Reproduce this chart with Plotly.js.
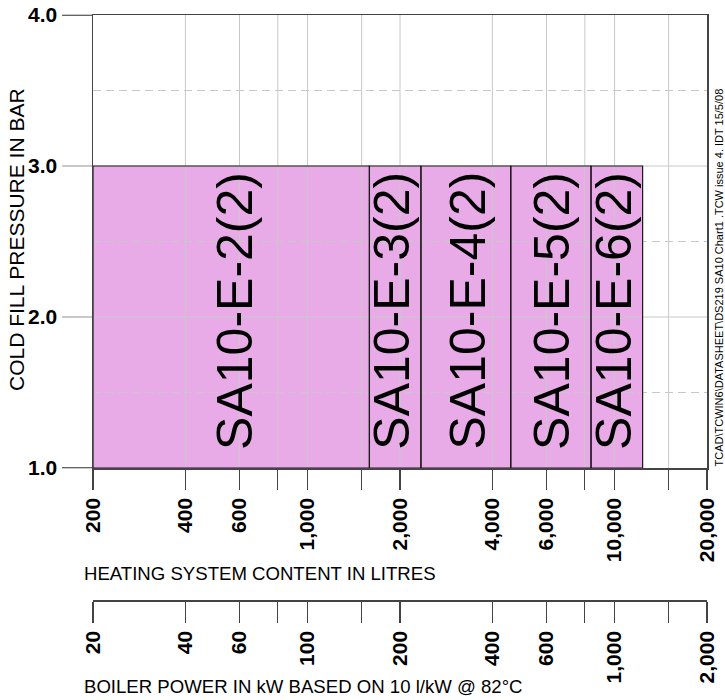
<!DOCTYPE html>
<html>
<head>
<meta charset="utf-8">
<script src="https://cdn.plot.ly/plotly-3.0.1.min.js"></script>
<style>html,body{margin:0;padding:0;background:#fff;}#chart{width:725px;height:700px;}</style>
</head>
<body>
<div id="chart"></div>
<script>
// ---- data ----
const regionNames = ['SA10-E-2(2)', 'SA10-E-3(2)', 'SA10-E-4(2)', 'SA10-E-5(2)', 'SA10-E-6(2)'];
const regionBounds = [200, 1590, 2340, 4590, 8380, 12340];   // litres
const regionPressureLow = [1.0, 1.0, 1.0, 1.0, 1.0];
const regionPressureHigh = [3.0, 3.0, 3.0, 3.0, 3.0];
const labelX = [580, 1880, 3320, 6250, 9950];
const labelY = [2.04, 2.04, 2.04, 2.04, 2.04];

const litreTicks = [200, 400, 600, 800, 1000, 1500, 2000, 4000, 6000, 8000, 10000, 15000, 20000];
const litreTickText = ['200', '400', '600', '', '1,000', '', '2,000', '4,000', '6,000', '', '10,000', '', '20,000'];
const kwTicks = [20, 40, 60, 80, 100, 150, 200, 400, 600, 800, 1000, 1500, 2000];
const kwTickText = ['20', '40', '60', '', '100', '', '200', '400', '600', '', '1,000', '', '2,000'];
const pressureTicks = [1, 2, 3, 4];
const pressureTickText = ['1.0', '2.0', '3.0', '4.0'];
const pressureHalfTicks = [1.5, 2.5, 3.5];
const litreRange = [200, 20000];
const kwRange = [20, 2000];
const pressureRange = [1, 4];

// ---- styling ----
const FONT = '"Liberation Sans", Arial, Helvetica, sans-serif';
const PINK = '#e9abe8';
const GRID = '#c8c8c8';
const AXIS = '#444444';

const traces = [];
const shapes = [];
const annotations = [];

// 1) region fills
regionNames.forEach((name, i) => {
  const x0 = regionBounds[i], x1 = regionBounds[i + 1];
  const y0 = regionPressureLow[i], y1 = regionPressureHigh[i];
  traces.push({type: 'scatter', mode: 'lines', fill: 'toself', fillcolor: PINK,
    x: [x0, x1, x1, x0, x0], y: [y0, y0, y1, y1, y0],
    line: {width: 0, color: PINK}, hoverinfo: 'skip', showlegend: false});
});

// 2) grid lines drawn over the fills
const gx = [], gy = [];
litreTicks.forEach(v => {
  if (v > litreRange[0] && v < litreRange[1]) { gx.push(v, v, null); gy.push(pressureRange[0], pressureRange[1], null); }
});
pressureTicks.forEach(v => {
  if (v > pressureRange[0] && v < pressureRange[1]) { gx.push(litreRange[0], litreRange[1], null); gy.push(v, v, null); }
});
traces.push({type: 'scatter', mode: 'lines', x: gx, y: gy,
  line: {color: GRID, width: 1}, hoverinfo: 'skip', showlegend: false});
const dx = [], dy = [];
pressureHalfTicks.forEach(v => { dx.push(litreRange[0], litreRange[1], null); dy.push(v, v, null); });
traces.push({type: 'scatter', mode: 'lines', x: dx, y: dy,
  line: {color: GRID, width: 1, dash: '8px,5px'}, hoverinfo: 'skip', showlegend: false});

// 3) region outlines and labels
regionNames.forEach((name, i) => {
  const x0 = regionBounds[i], x1 = regionBounds[i + 1];
  const y0 = regionPressureLow[i], y1 = regionPressureHigh[i];
  traces.push({type: 'scatter', mode: 'lines', name: name,
    x: [x0, x1, x1, x0, x0], y: [y0, y0, y1, y1, y0],
    line: {color: '#1a1a1a', width: 1.2}, hoverinfo: 'name', showlegend: false});
  annotations.push({xref: 'x', yref: 'y', x: Math.log10(labelX[i]), y: labelY[i],
    text: name, textangle: -90, showarrow: false, xanchor: 'center', yanchor: 'middle',
    font: {family: FONT, size: 50, color: '#000'}});
});

// dummy trace so the boiler-power axis is drawn
traces.push({type: 'scatter', mode: 'markers', xaxis: 'x2', yaxis: 'y',
  x: kwRange, y: [2, 2], marker: {opacity: 0}, hoverinfo: 'skip', showlegend: false});

// dark extensions of top and bottom borders to the tick labels
[pressureRange[0], pressureRange[1]].forEach(v => {
  shapes.push({type: 'line', xref: 'paper', yref: 'y', x0: -31 / 614, x1: 0, y0: v, y1: v,
    line: {color: AXIS, width: 1.5}, layer: 'above'});
});

// titles and side note (paper coords: plot x 93..707, paper y 600..15)
const px = p => (p - 93) / 614;
const py = p => (600 - p) / 585;
annotations.push({xref: 'paper', yref: 'paper', x: px(17), y: py(240), textangle: -90,
  text: 'COLD FILL PRESSURE IN BAR', showarrow: false, xanchor: 'center', yanchor: 'middle',
  font: {family: FONT, size: 21, color: '#000'}});
annotations.push({xref: 'paper', yref: 'paper', x: px(82), y: py(573),
  text: 'HEATING SYSTEM CONTENT IN LITRES', showarrow: false, xanchor: 'left', yanchor: 'middle',
  font: {family: FONT, size: 18.6, color: '#000'}});
annotations.push({xref: 'paper', yref: 'paper', x: px(82), y: py(686.5),
  text: 'BOILER POWER IN kW BASED ON 10 l/kW @ 82°C', showarrow: false, xanchor: 'left', yanchor: 'middle',
  font: {family: FONT, size: 18.6, color: '#000'}});
annotations.push({xref: 'paper', yref: 'paper', x: px(718), y: py(277.5), textangle: -90,
  text: 'TCAD\\TCWIN6\\DATASHEET\\DS219 SA10 Chart1 .TCW issue 4. IDT 15/5/08', showarrow: false,
  xanchor: 'center', yanchor: 'middle',
  font: {family: FONT, size: 11, color: '#000'}});

const tickFont = {family: FONT, size: 21, color: '#000', weight: 'bold'};

const layout = {
  width: 725, height: 700,
  margin: {l: 93, r: 18, t: 15, b: 100, pad: 0},
  paper_bgcolor: '#fff', plot_bgcolor: '#fff',
  showlegend: false,
  xaxis: {
    type: 'log', range: litreRange.map(Math.log10), anchor: 'y',
    tickmode: 'array', tickvals: litreTicks, ticktext: litreTickText,
    tickangle: -90, tickfont: tickFont,
    ticks: 'outside', ticklen: 20, tickwidth: 1.3, tickcolor: AXIS,
    showgrid: false,
    showline: true, linecolor: AXIS, linewidth: 1.5, mirror: true,
    zeroline: false, fixedrange: true
  },
  xaxis2: {
    type: 'log', range: kwRange.map(Math.log10), overlaying: 'x', anchor: 'free', position: 0,
    side: 'bottom',
    tickmode: 'array', tickvals: kwTicks, ticktext: kwTickText,
    tickangle: -90, tickfont: tickFont,
    ticks: 'outside', ticklen: 21, tickwidth: 1.3, tickcolor: AXIS,
    showgrid: false, showline: true, linecolor: AXIS, linewidth: 1.5,
    zeroline: false, fixedrange: true
  },
  yaxis: {
    range: pressureRange, domain: [(600 - 468) / 585, 1],
    tickmode: 'array', tickvals: pressureTicks, ticktext: pressureTickText,
    tickfont: tickFont,
    ticks: 'outside', ticklen: 30, tickwidth: 1.3, tickcolor: GRID,
    showgrid: false,
    showline: true, linecolor: AXIS, linewidth: 1.5, mirror: true,
    zeroline: false, fixedrange: true
  },
  shapes: shapes,
  annotations: annotations
};

Plotly.newPlot('chart', traces, layout, {displayModeBar: false, staticPlot: true});
</script>
</body>
</html>
